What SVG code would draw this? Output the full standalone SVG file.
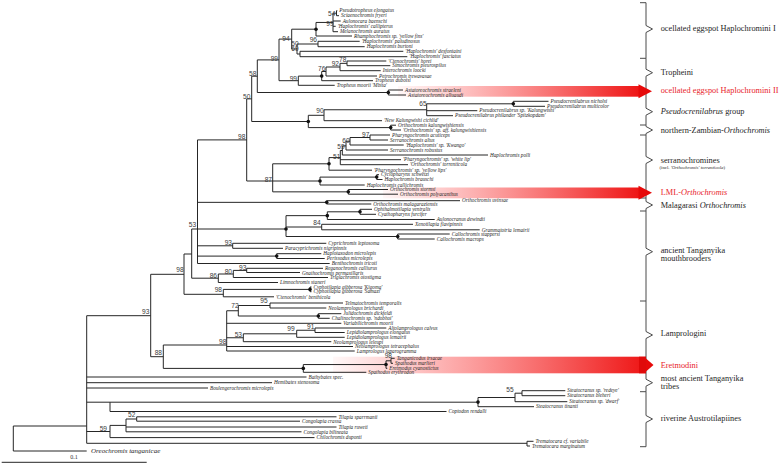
<svg xmlns="http://www.w3.org/2000/svg" width="781" height="466" viewBox="0 0 781 466">
<defs>
<style>
.br{fill:none;stroke:#262626;stroke-width:1}
.brk{fill:none;stroke:#4a4a4a;stroke-width:1}
.tip{font-family:"Liberation Serif","Times New Roman",serif;font-style:italic;font-size:5.2px;fill:#1e1e1e}
.bs{font-family:"Liberation Sans",Arial,sans-serif;font-size:6.6px;fill:#3a3a3a;text-anchor:middle}
.dot{fill:#111}
.grp{font-family:"Liberation Serif","Times New Roman",serif;font-size:8.3px;fill:#1e1e1e}
.sub{font-family:"Liberation Serif","Times New Roman",serif;font-size:4.8px;fill:#1e1e1e}
.red{fill:#e8232a}
.it{font-style:italic}
.ah{fill:#e60a0a}
</style>
<linearGradient id="fade" x1="0" y1="0" x2="1" y2="0">
<stop offset="0" stop-color="#ff4040" stop-opacity="0.04"/>
<stop offset="1" stop-color="#ee1515" stop-opacity="1"/>
</linearGradient>
</defs>
<rect width="781" height="466" fill="#ffffff"/>

<g id="highlights">
<rect x="398" y="86" width="241" height="10.7" fill="url(#fade)"/>
<rect x="383" y="187.5" width="256" height="10.8" fill="url(#fade)"/>
<rect x="333" y="356.7" width="313" height="16.6" fill="url(#fade)"/>
</g>

<g id="brackets">
<path class="brk" d="M640,2.7 H646 V25.5 L652.5,29 L646,32.5 V58.3 H640 M646,58.3 V69.2 L652.5,72.7 L646,76.2 V108.2 L652.5,111.7 L646,115.2 V125 H640 M646,125 V126.5 L652.5,130 L646,133.5 V135 H640 M646,135 V156.5 L652.5,160 L646,163.5 V198 H640 M646,198 V201.5 L652.5,205 L646,208.5 V211 H640 M646,211 V248.2 L652.5,251.7 L646,255.2 V301 H640 M646,301 V331.5 L652.5,335 L646,338.5 V379.2 L652.5,382.7 L646,386.2 V391.7 H640 M646,391.7 V415.5 L652.5,419 L646,422.5 V446.7 H640"/>
</g>
<g id="arrowheads">
<polygon class="ah" points="638.5,84.3 652,91.3 638.5,98.2"/>
<polygon class="ah" points="638.5,185.8 652,192.8 638.5,199.8"/>
<rect x="639" y="356.7" width="7" height="16.6" fill="#e00a0a"/>
<polygon class="ah" points="646,358.5 653.5,365 646,371.5"/>
</g>

<g id="connectors">
<path class="br" d="M13.3,426 V451 M13.3,426 H86.7 M13.3,451 H86.7
M86.7,315.7 V443.3 M86.7,315.7 H150.7 M86.7,377 H306.5 M86.7,382.7 H272 M86.7,388 H208 M86.7,402.2 H478 M110,402.2 V411.5 H446.5 M86.7,431.5 H110 M86.7,443.3 H527
M110,425.4 V437.6 M110,425.4 H126 M110,437.6 H314.5 M126,419 V431.8 M126,419 H136.7 M126,427 H336.5 M126,431.8 H301.5 M136.7,416.8 V421.2 M136.7,416.8 H336.5 M136.7,421.2 H300
M527,441.3 V446 M527,441.3 H533.5 M527,446 H530
M478,397.5 V406.7 M478,397.5 H515 M478,406.7 H534 M515,393.2 V401.7 M515,393.2 H522 M515,401.7 H567.3 M522,390.7 V395.7 M522,390.7 H565.3 M522,395.7 H565.3
M150.7,274.3 V356.7 M150.7,274.3 H184 M150.7,356.7 H163.3
M163.3,345 V368.4 M163.3,345 H226.7 M163.3,368.4 H303.3
M226.7,310.75 V351 M226.7,310.75 H238.3 M226.7,323.3 H341.3 M226.7,337.75 H243.3 M226.7,346.5 H353 M226.7,351 H354.7
M238.3,305.5 V316 M238.3,305.5 H270 M238.3,316 H318.3
M270,303 V308 M270,303 H343 M270,308 H326.3
M318.3,313.7 V318.3 M318.3,313.7 H341.3 M318.3,318.3 H329.7
M243.3,333.8 V341.7 M243.3,333.8 H296.7 M243.3,341.7 H331.3
M296.7,330.25 V337.3 M296.7,330.25 H315 M296.7,337.3 H344.7
M315,328 V332.5 M315,328 H386.3 M315,332.5 H344.7
M303.3,364.55 V372.3 M303.3,364.55 H386 M303.3,372.3 H366.3 M386,360.8 V368.3 M386,360.8 H391 M386,368.3 H387.3 M391,358.3 V363.3 M391,358.3 H394.7 M391,363.3 H393
M184,254 V294.3 M184,254 H191.7 M184,294.3 H223.3
M223.3,289.4 V296.8 M223.3,289.4 H310 M223.3,296.8 H274
M310,287 V291.7 M310,287 H311.5 M310,291.7 H311.5
M191.7,229 V278.2 M191.7,229 H286 M191.7,278.2 H218.3
M218.3,274 V282.5 M218.3,274 H233.3 M218.3,282.5 H278
M233.3,270.4 V277.5 M233.3,270.4 H246.7 M233.3,277.5 H328
M246.7,268.3 V272.5 M246.7,268.3 H323 M246.7,272.5 H300
M197.5,139.9 V263.5 M197.5,139.9 H246.7 M197.5,202.35 H326.7 M197.5,245.8 H232.7 M197.5,256.1 H276.7 M197.5,263.5 H329.7
M232.7,243.3 V248.3 M232.7,243.3 H326.3 M232.7,248.3 H283
M276.7,253.7 V258.5 M276.7,253.7 H321.3 M276.7,258.5 H324.7
M286,215.65 V236.5 M286,215.65 H327.3 M286,227 H321.7 M286,236.5 H397.7
M327.3,211.8 V219.5 M327.3,211.8 H360 M327.3,219.5 H434.7
M360,209.3 V214.3 M360,209.3 H372 M360,214.3 H376
M321.7,224.3 V229.8 M321.7,224.3 H413 M321.7,229.8 H479.7
M397.7,234 V239 M397.7,234 H449.7 M397.7,239 H434.7
M326.7,200.7 V204 M326.7,200.7 H460 M326.7,204 H371.3
M246.7,98.85 V181 M246.7,98.85 H251.7 M246.7,181 H272.7
M272.7,163.8 V191.85 M272.7,163.8 H329 M272.7,181 H320 M272.7,191.85 H348.3
M329,157.6 V170.2 M329,157.6 H340.3 M329,170.2 H372
M340.3,150.5 V164.7 M340.3,150.5 H342.3 M340.3,159.7 H401 M340.3,164.7 H408
M342.3,145.9 V155 M342.3,145.9 H346 M342.3,155 H488
M346,141.25 V150 M346,141.25 H350 M346,150 H388
M350,137.5 V145 M350,137.5 H370 M350,145 H403.7
M370,135 V140 M370,135 H390 M370,140 H388
M320,177.1 V185 M320,177.1 H376.7 M320,185 H364.7
M376.7,174.7 V179.5 M376.7,174.7 H379 M376.7,179.5 H382.5
M348.3,189.5 V194.2 M348.3,189.5 H388 M348.3,194.2 H398
M251.7,76.2 V121.5 M251.7,76.2 H257.3 M251.7,121.5 H308.3
M308.3,115.3 V127.6 M308.3,115.3 H324 M308.3,127.6 H390.7
M324,109.75 V120.7 M324,109.75 H426.7 M324,120.7 H382
M426.7,103.8 V115.7 M426.7,103.8 H513.3 M426.7,110.7 H477.3 M426.7,115.7 H453
M513.3,101.3 V106.3 M513.3,101.3 H548.5 M513.3,106.3 H545
M390.7,125.2 V130 M390.7,125.2 H396 M390.7,130 H401
M257.3,59.9 V92.5 M257.3,59.9 H279 M257.3,92.5 H388.3
M388.3,90 V95 M388.3,90 H403 M388.3,95 H406
M279,39.1 V80.7 M279,39.1 H291.7 M279,80.7 H298.3
M291.7,29.2 V49 M291.7,29.2 H316 M291.7,49 H297
M316,22.45 V36 M316,22.45 H333 M316,36 H352
M333,13.2 V31.7 M333,13.2 H336.5 M333,21 H340.7 M333,26.3 H335.7 M333,31.7 H338
M336.5,10.7 V15.7 M336.5,10.7 H337.3 M336.5,15.7 H339
M297,44 V54 M297,44 H318 M297,54 H300
M318,41.3 V46.7 M318,41.3 H359.7 M318,46.7 H364.7
M300,51.3 V56.7 M300,51.3 H403.3 M300,56.7 H407.3
M298.3,76.1 V85.3 M298.3,76.1 H321.7 M298.3,85.3 H334.7
M321.7,71.5 V80.7 M321.7,71.5 H326 M321.7,80.7 H373
M326,67 V76 M326,67 H340 M326,76 H377
M340,63.35 V70.7 M340,63.35 H347 M340,70.7 H380.7
M347,61 V65.7 M347,61 H386.3 M347,65.7 H390.3"/>
</g>

<g id="node-dots">
<circle class="dot" cx="316" cy="29.2" r="1.8"/>
<circle class="dot" cx="321.7" cy="76.1" r="1.8"/>
<circle class="dot" cx="388.3" cy="92.5" r="1.8"/>
<circle class="dot" cx="513.3" cy="103.8" r="1.8"/>
<circle class="dot" cx="308.3" cy="121.5" r="1.8"/>
<circle class="dot" cx="390.7" cy="127.6" r="1.8"/>
<circle class="dot" cx="329" cy="163.8" r="1.8"/>
<circle class="dot" cx="376.7" cy="177.1" r="1.8"/>
<circle class="dot" cx="320" cy="181" r="1.8"/>
<circle class="dot" cx="348.3" cy="191.85" r="1.8"/>
<circle class="dot" cx="326.7" cy="202.35" r="1.8"/>
<circle class="dot" cx="360" cy="211.8" r="1.8"/>
<circle class="dot" cx="327.3" cy="215.65" r="1.8"/>
<circle class="dot" cx="286" cy="229" r="1.8"/>
<circle class="dot" cx="397.7" cy="236.5" r="1.8"/>
<circle class="dot" cx="276.7" cy="256.1" r="1.8"/>
<circle class="dot" cx="310" cy="289.4" r="1.8"/>
<circle class="dot" cx="318.3" cy="316" r="1.8"/>
<circle class="dot" cx="303.3" cy="368.4" r="1.8"/>
<circle class="dot" cx="386" cy="364.55" r="1.8"/>
<circle class="dot" cx="478" cy="402.1" r="1.8"/>
</g>

<g id="support-values">
<text class="bs" x="331.7" y="16.4">54</text>
<text class="bs" x="330" y="25.7">99</text>
<text class="bs" x="286" y="41.4">94</text>
<text class="bs" x="313.3" y="42.4">96</text>
<text class="bs" x="295" y="45.7">50</text>
<text class="bs" x="295" y="51.4">69</text>
<text class="bs" x="274.3" y="60.7">99</text>
<text class="bs" x="252.7" y="75.7">58</text>
<text class="bs" x="293.3" y="80.7">99</text>
<text class="bs" x="321.7" y="70.7">76</text>
<text class="bs" x="335.3" y="65.7">92</text>
<text class="bs" x="342.7" y="62.4">78</text>
<text class="bs" x="246.7" y="99.1">50</text>
<text class="bs" x="423" y="106.4">65</text>
<text class="bs" x="320" y="113.4">90</text>
<text class="bs" x="241.7" y="139.1">98</text>
<text class="bs" x="365.7" y="136.7">97</text>
<text class="bs" x="346" y="143.1">60</text>
<text class="bs" x="341" y="149.1">59</text>
<text class="bs" x="336.7" y="159.1">51</text>
<text class="bs" x="268.3" y="181.7">87</text>
<text class="bs" x="192.5" y="227.4">53</text>
<text class="bs" x="317" y="224.9">84</text>
<text class="bs" x="228.3" y="245.1">93</text>
<text class="bs" x="180" y="272.4">98</text>
<text class="bs" x="213.3" y="278.1">86</text>
<text class="bs" x="228.3" y="274.1">80</text>
<text class="bs" x="242.7" y="270.1">93</text>
<text class="bs" x="218.3" y="292.4">98</text>
<text class="bs" x="145.7" y="314.1">93</text>
<text class="bs" x="235" y="308.1">72</text>
<text class="bs" x="264" y="303.1">95</text>
<text class="bs" x="291" y="331.4">99</text>
<text class="bs" x="310.7" y="328.7">91</text>
<text class="bs" x="238.3" y="337.4">53</text>
<text class="bs" x="222.7" y="343.9">98</text>
<text class="bs" x="158.3" y="354.7">88</text>
<text class="bs" x="388.3" y="358.4">98</text>
<text class="bs" x="510" y="392.4">55</text>
<text class="bs" x="131.7" y="417.4">52</text>
<text class="bs" x="103.3" y="430.7">59</text>
</g>

<g id="tips">
<g id="t1"><text class="tip" x="339.3" y="12.4">Pseudotropheus elongatus</text></g>
<g id="t2"><text class="tip" x="341" y="17.4">Sciaenochromis fryeri</text></g>
<g id="t3"><text class="tip" x="342.7" y="22.7">Aulonocara baenschi</text></g>
<g id="t4"><text class="tip" x="337.7" y="27.9">'Haplochromis' callipterus</text></g>
<g id="t5"><text class="tip" x="340" y="33.1">Melanochromis auratus</text></g>
<g id="t6"><text class="tip" x="354" y="38">Rhamphochromis sp. 'yellow fins'</text></g>
<g id="t7"><text class="tip" x="361.7" y="43.1">'Haplochromis' paludinosus</text></g>
<g id="t8"><text class="tip" x="366.7" y="48.4">Haplochromis burtoni</text></g>
<g id="t9"><text class="tip" x="405.3" y="53">'Haplochromis' desfontaini</text></g>
<g id="t10"><text class="tip" x="409.3" y="58.4">'Haplochromis' fasciatus</text></g>
<g id="t11"><text class="tip" x="388.3" y="62.7">'Ctenochromis' horei</text></g>
<g id="t12"><text class="tip" x="392.3" y="67.4">Simochromis pleurospilus</text></g>
<g id="t13"><text class="tip" x="382.7" y="72.4">Interochromis loocki</text></g>
<g id="t14"><text class="tip" x="379" y="77.7">Petrochromis trewavasae</text></g>
<g id="t15"><text class="tip" x="375" y="82.4">Tropheus duboisi</text></g>
<g id="t16"><text class="tip" x="336.7" y="87">Tropheus moorii 'Mbita'</text></g>
<g id="t17"><text class="tip" x="405" y="91.7">Astatoreochromis straeleni</text></g>
<g id="t18"><text class="tip" x="408" y="96.7">Astatoreochromis alluaudi</text></g>
<g id="t19"><text class="tip" x="550.5" y="103">Pseudocrenilabrus nicholsi</text></g>
<g id="t20"><text class="tip" x="547" y="108">Pseudocrenilabrus multicolor</text></g>
<g id="t21"><text class="tip" x="479.3" y="112.4">Pseudocrenilabrus sp. 'Kalungwishi'</text></g>
<g id="t22"><text class="tip" x="455" y="117.4">Pseudocrenilabrus philander 'Spitzkopdam'</text></g>
<g id="t23"><text class="tip" x="384" y="122.4">'New Kalungwishi cichlid'</text></g>
<g id="t24"><text class="tip" x="398" y="126.9">Orthochromis kalungwishiensis</text></g>
<g id="t25"><text class="tip" x="403" y="131.7">'Orthochromis' sp. aff. kalungwishiensis</text></g>
<g id="t26"><text class="tip" x="392" y="136.7">Pharyngochromis acuticeps</text></g>
<g id="t27"><text class="tip" x="390" y="141.7">Serranochromis altus</text></g>
<g id="t28"><text class="tip" x="405.7" y="146.7">'Haplochromis' sp. 'Kwango'</text></g>
<g id="t29"><text class="tip" x="390" y="151.7">Serranochromis robustus</text></g>
<g id="t30"><text class="tip" x="490" y="156.7">Haplochromis polli</text></g>
<g id="t31"><text class="tip" x="403" y="161.4">'Pharyngochromis' sp. 'white lip'</text></g>
<g id="t32"><text class="tip" x="410" y="166.4">'Orthochromis' torrenticola</text></g>
<g id="t33"><text class="tip" x="374" y="171.9">'Pharyngochromis' sp. 'yellow lips'</text></g>
<g id="t34"><text class="tip" x="381" y="176.4">Cyclopharynx schwetzi</text></g>
<g id="t35"><text class="tip" x="384.5" y="181.2">Haplochromis brauschi</text></g>
<g id="t36"><text class="tip" x="366.7" y="186.7">Haplochromis callichromis</text></g>
<g id="t37"><text class="tip" x="390" y="191.2">Orthochromis stormsi</text></g>
<g id="t38"><text class="tip" x="400" y="195.9">Orthochromis polyacanthus</text></g>
<g id="t39"><text class="tip" x="462" y="202.4">Orthochromis uvinsae</text></g>
<g id="t40"><text class="tip" x="373.3" y="205.7">Orthochromis malagaraziensis</text></g>
<g id="t41"><text class="tip" x="374" y="211">Ophthalmotilapia ventralis</text></g>
<g id="t42"><text class="tip" x="378" y="216">Cyathopharynx furcifer</text></g>
<g id="t43"><text class="tip" x="436.7" y="221.2">Aulonocranus dewindti</text></g>
<g id="t44"><text class="tip" x="415" y="226">Xenotilapia flavipinnis</text></g>
<g id="t45"><text class="tip" x="481.7" y="231.5">Grammatotria lemairii</text></g>
<g id="t46"><text class="tip" x="451.7" y="235.7">Callochromis stappersi</text></g>
<g id="t47"><text class="tip" x="436.7" y="240.7">Callochromis macrops</text></g>
<g id="t48"><text class="tip" x="328.3" y="245">Cyprichromis leptosoma</text></g>
<g id="t49"><text class="tip" x="285" y="250">Paracyprichromis nigripinnis</text></g>
<g id="t50"><text class="tip" x="323.3" y="255.4">Haplotaxodon microlepis</text></g>
<g id="t51"><text class="tip" x="326.7" y="260.2">Perissodus microlepis</text></g>
<g id="t52"><text class="tip" x="331.7" y="265">Benthochromis tricoti</text></g>
<g id="t53"><text class="tip" x="325" y="269.5">Reganochromis calliurus</text></g>
<g id="t54"><text class="tip" x="302" y="274.6">Gnathochromis permaxillaris</text></g>
<g id="t55"><text class="tip" x="330" y="279.4">Triglachromis otostigma</text></g>
<g id="t56"><text class="tip" x="280" y="284.2">Limnochromis staneri</text></g>
<g id="t57"><text class="tip" x="313.5" y="288.7">Cyphotilapia gibberosa 'Kigoma'</text></g>
<g id="t58"><text class="tip" x="313.5" y="293.4">Cyphotilapia gibberosa 'Samazi'</text></g>
<g id="t59"><text class="tip" x="276" y="298.5">'Ctenochromis' benthicola</text></g>
<g id="t60"><text class="tip" x="345" y="304.7">Telmatochromis temporalis</text></g>
<g id="t61"><text class="tip" x="328.3" y="309.7">Neolamprologus brichardi</text></g>
<g id="t62"><text class="tip" x="343.3" y="315.4">Julidochromis dickfeldi</text></g>
<g id="t63"><text class="tip" x="331.7" y="320">Chalinochromis sp. 'ndobhoi'</text></g>
<g id="t64"><text class="tip" x="343.3" y="325">Variabilichromis moorii</text></g>
<g id="t65"><text class="tip" x="388.3" y="329.6">Altolamprologus calvus</text></g>
<g id="t66"><text class="tip" x="346.7" y="334">Lepidiolamprologus elongatus</text></g>
<g id="t67"><text class="tip" x="346.7" y="338.7">Lepidiolamprologus lemairii</text></g>
<g id="t68"><text class="tip" x="333.3" y="343.6">Neolamprologus leleupi</text></g>
<g id="t69"><text class="tip" x="355" y="348.3">Neolamprologus tetracephalus</text></g>
<g id="t70"><text class="tip" x="356.7" y="352.8">Lamprologus laparogramma</text></g>
<g id="t71"><text class="tip" x="396.7" y="360">Tanganicodus irsacae</text></g>
<g id="t72"><text class="tip" x="395" y="365">Spathodus marlieri</text></g>
<g id="t73"><text class="tip" x="389.3" y="370">Eretmodus cyanostictus</text></g>
<g id="t74"><text class="tip" x="368.3" y="374">Spathodus erythrodon</text></g>
<g id="t75"><text class="tip" x="308.5" y="378.7">Bathybates spec.</text></g>
<g id="t76"><text class="tip" x="274" y="384.4">Hemibates stenosoma</text></g>
<g id="t77"><text class="tip" x="210" y="389.7">Boulengerochromis microlepis</text></g>
<g id="t78"><text class="tip" x="567.3" y="392.4">Steatocranus sp. 'redeye'</text></g>
<g id="t79"><text class="tip" x="567.3" y="397.4">Steatocranus bleheri</text></g>
<g id="t80"><text class="tip" x="569.3" y="403.4">Steatocranus sp. 'dwarf'</text></g>
<g id="t81"><text class="tip" x="536" y="408.4">Steatocranus tinanti</text></g>
<g id="t82"><text class="tip" x="448.5" y="413.2">Coptodon rendalli</text></g>
<g id="t83"><text class="tip" x="338.5" y="418.5">Tilapia sparrmanii</text></g>
<g id="t84"><text class="tip" x="302" y="422.9">Congolapia crassa</text></g>
<g id="t85"><text class="tip" x="338.5" y="428.7">Tilapia ruweti</text></g>
<g id="t86"><text class="tip" x="303.5" y="433.5">Congolapia bilineata</text></g>
<g id="t87"><text class="tip" x="316.5" y="439.3">Chilochromis duponti</text></g>
<g id="t88"><text class="tip" x="535.5" y="443">Trematocara cf. variabile</text></g>
<g id="t89"><text class="tip" x="532" y="447.7">Trematocara marginatum</text></g>
<g id="t90"><text class="tip" x="91" y="453.4" style="font-size:7px">Oreochromis tanganicae</text></g>
</g>

<g id="scale">
<path class="br" d="M1.7,462.3 H146.7"/>
<text x="74" y="459" text-anchor="middle" style="font-family:'Liberation Serif',serif;font-size:6px;fill:#333">0.1</text>
</g>

<g id="group-labels">
<g id="g-oeh1"><text class="grp" x="660.7" y="31">ocellated eggspot Haplochromini I</text></g>
<g id="g-trop"><text class="grp" x="660.7" y="75.4">Tropheini</text></g>
<g id="g-oeh2"><text class="grp red" x="660.7" y="93.4">ocellated eggspot Haplochromini II</text></g>
<g id="g-pseudo"><text class="grp" x="660.7" y="114.4"><tspan class="it">Pseudocrenilabrus</tspan> group</text></g>
<g id="g-nzo"><text class="grp" x="660.7" y="132.7">northern-Zambian-<tspan class="it">Orthochromis</tspan></text></g>
<g id="g-serr"><text class="grp" x="660.7" y="162.5">serranochromines</text><text class="sub" x="659.5" y="168.6">(incl. <tspan class="it">'Orthochromis' torrenticola</tspan>)</text></g>
<g id="g-lml"><text class="grp red" x="660.7" y="195.4">LML-<tspan class="it">Orthochromis</tspan></text></g>
<g id="g-mal"><text class="grp" x="660.7" y="207.7">Malagarasi <tspan class="it">Orthochromis</tspan></text></g>
<g id="g-atm"><text class="grp" x="660.7" y="252.7">ancient Tanganyika</text><text class="grp" x="660.7" y="261">mouthbrooders</text></g>
<g id="g-lamp"><text class="grp" x="660.7" y="336">Lamprologini</text></g>
<g id="g-eret"><text class="grp red" x="660.7" y="367.7">Eretmodini</text></g>
<g id="g-mat"><text class="grp" x="660.7" y="381">most ancient Tanganyika</text><text class="grp" x="660.7" y="389.4">tribes</text></g>
<g id="g-riv"><text class="grp" x="660.7" y="421">riverine Austrotilapiines</text></g>
</g>
</svg>
